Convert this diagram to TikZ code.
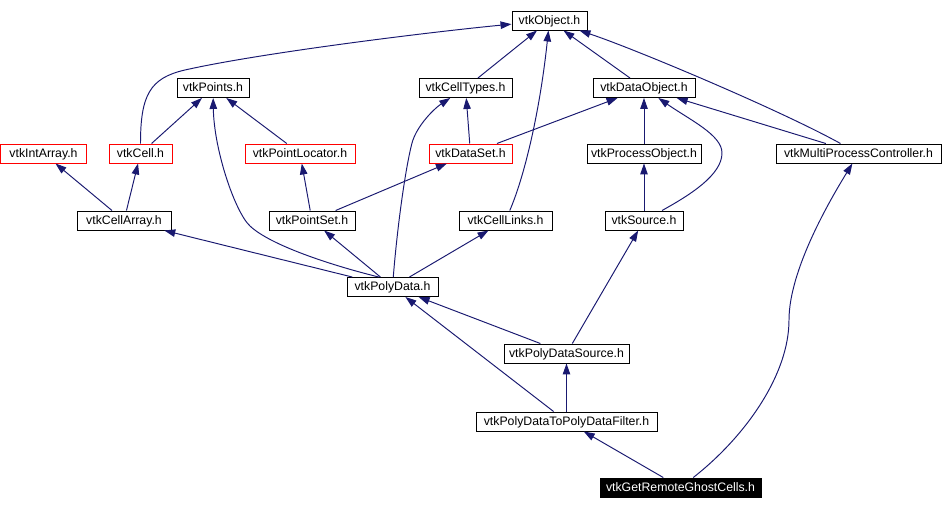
\documentclass[tikz,border=0pt]{standalone}
\usepackage{fontspec}
\setmainfont{Liberation Sans}
\usetikzlibrary{arrows.meta}
\definecolor{vtkedge}{RGB}{25, 25, 112}
\definecolor{vtkred}{RGB}{255, 0, 0}

\begin{document}
\begin{tikzpicture}[x=0.02cm, y=-0.02cm, >={Triangle[length=0.22cm, width=0.15cm]},
    hfile/.style={draw=black, fill=white, line width=0.55pt, inner sep=0pt, minimum height=0.38cm,
        text height=5.4pt, text depth=1.3pt, font=\fontsize{7}{8}\selectfont},
    hbad/.style={hfile, draw=vtkred},
    hmain/.style={hfile, fill=black, text=white},
    dep/.style={->, color=vtkedge, line width=0.55pt}]
    \useasboundingbox (0, 0) rectangle (944, 509);

    % header files, top to bottom
    \node[hfile, minimum width=1.50cm] (obj) at (549.5, 20.5) {vtkObject.h};

    \node[hfile, minimum width=1.44cm] (points) at (213, 88) {vtkPoints.h};
    \node[hfile, minimum width=1.86cm] (celltypes) at (465.5, 88) {vtkCellTypes.h};
    \node[hfile, minimum width=2.04cm] (dataobj) at (644, 88) {vtkDataObject.h};

    \node[hbad, minimum width=1.72cm] (intarray) at (43.5, 153.5) {vtkIntArray.h};
    \node[hbad, minimum width=1.26cm] (cell) at (140.5, 153.5) {vtkCell.h};
    \node[hbad, minimum width=2.20cm] (ptlocator) at (300, 153.5) {vtkPointLocator.h};
    \node[hbad, minimum width=1.66cm] (dataset) at (470.5, 153.5) {vtkDataSet.h};
    \node[hfile, minimum width=2.28cm] (procobj) at (644, 153.5) {vtkProcessObject.h};
    \node[hfile, minimum width=3.30cm] (multiproc) at (858.5, 153.5) {vtkMultiProcessController.h};

    \node[hfile, minimum width=1.88cm] (cellarray) at (124, 220.5) {vtkCellArray.h};
    \node[hfile, minimum width=1.72cm] (pointset) at (312, 220.5) {vtkPointSet.h};
    \node[hfile, minimum width=1.86cm] (celllinks) at (505.5, 220.5) {vtkCellLinks.h};
    \node[hfile, minimum width=1.56cm] (source) at (644, 220.5) {vtkSource.h};

    \node[hfile, minimum width=1.82cm] (polydata) at (392.5, 287) {vtkPolyData.h};
    \node[hfile, minimum width=2.50cm] (pdsource) at (566.5, 353.5) {vtkPolyDataSource.h};
    \node[hfile, minimum width=3.62cm] (pdfilter) at (566.5, 421.5) {vtkPolyDataToPolyDataFilter.h};
    \node[hmain, minimum width=3.22cm] (ghost) at (680.5, 487.5) {vtkGetRemoteGhostCells.h};

    % include edges
    \draw[dep] (cell) .. controls (140.5, 95) and (150, 78) .. (185, 70) .. controls (260, 53) and (430, 32) .. (obj);
    \draw[dep] (cell) -- (points);
    \draw[dep] (ptlocator) -- (points);
    \draw[dep] (cellarray) -- (intarray);
    \draw[dep] (cellarray) -- (cell);
    \draw[dep] (pointset) -- (ptlocator);
    \draw[dep] (pointset) -- (dataset);

    \draw[dep] (polydata.144) .. controls (330, 265) and (270, 245) .. (250, 226) .. controls (235, 212) and (214, 150) .. (points);
    \draw[dep] (polydata) -- (cellarray);
    \draw[dep] (polydata) -- (pointset);
    \draw[dep] (polydata) .. controls (397, 230) and (405, 170) .. (412, 143) .. controls (417, 125) and (435, 108) .. (celltypes);
    \draw[dep] (polydata) -- (celllinks);

    \draw[dep] (celltypes) -- (obj);
    \draw[dep] (dataset) -- (celltypes);
    \draw[dep] (dataset) -- (dataobj);
    \draw[dep] (celllinks) .. controls (525, 175) and (540, 110) .. (obj);
    \draw[dep] (dataobj) -- (obj);
    \draw[dep] (procobj) -- (dataobj);
    \draw[dep] (source) -- (procobj);
    \draw[dep] (source) .. controls (690, 195) and (722, 175) .. (722, 153) .. controls (722, 135) and (690, 120) .. (dataobj);
    \draw[dep] (multiproc) .. controls (780, 110) and (635, 49) .. (obj);
    \draw[dep] (multiproc) -- (dataobj);

    \draw[dep] (pdsource) -- (polydata);
    \draw[dep] (pdsource) -- (source);
    \draw[dep] (pdfilter) -- (polydata);
    \draw[dep] (pdfilter) -- (pdsource);
    \draw[dep] (ghost) -- (pdfilter);
    \draw[dep] (ghost) .. controls (745, 437) and (789, 375) .. (789, 320) .. controls (789, 270) and (830, 200) .. (multiproc);
\end{tikzpicture}
\end{document}
